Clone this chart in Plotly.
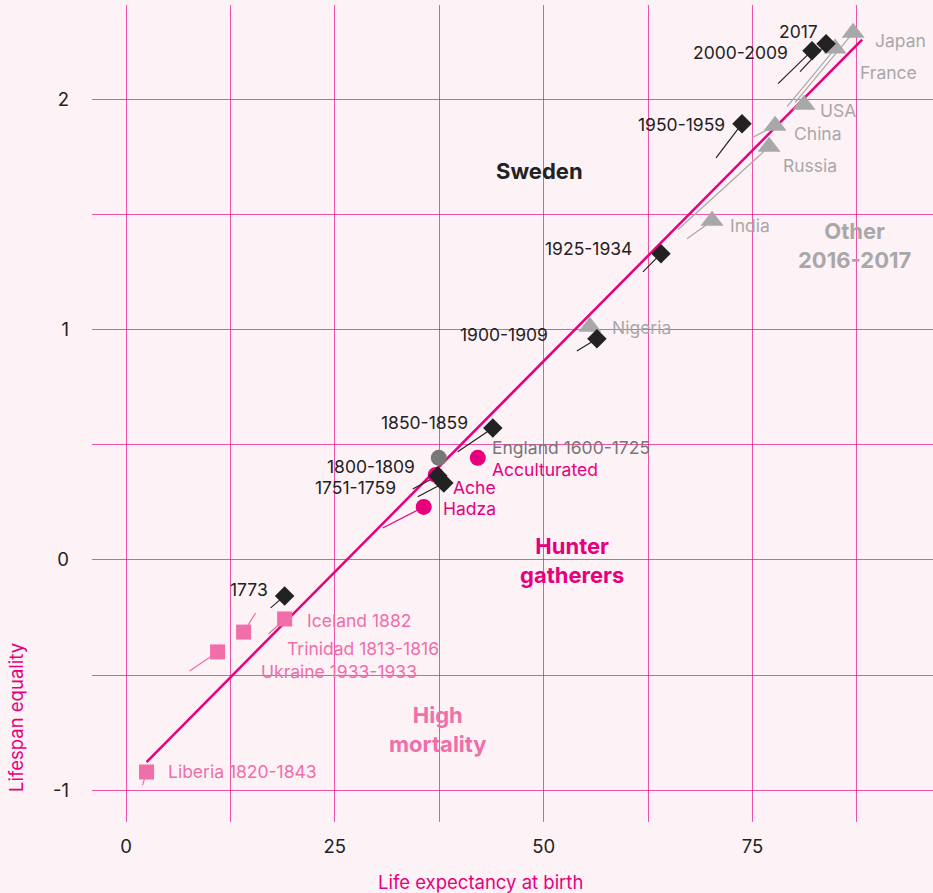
import plotly.graph_objects as go

# ---------------- data ----------------
sweden_labels = ["2017", "2000-2009", "1950-1959", "1925-1934", "1900-1909",
                 "1850-1859", "1800-1809", "1751-1759", "1773"]
sweden_x = [83.80, 82.12, 73.74, 64.04, 56.37, 43.91, 37.32, 38.04, 18.99]
sweden_y = [2.240, 2.210, 1.893, 1.329, 0.960, 0.573, 0.365, 0.334, -0.156]
sweden_tail_x = [80.69, 78.05, 70.63, 61.88, 53.97, 39.71, 34.32, 34.92, 17.31]
sweden_tail_y = [2.119, 2.067, 1.745, 1.250, 0.907, 0.469, 0.308, 0.274, -0.208]

other_labels = ["Japan", "France", "USA", "China", "Russia", "India", "Nigeria"]
other_x = [87.04, 84.88, 81.17, 77.70, 76.98, 70.15, 55.53]
other_y = [2.288, 2.219, 1.975, 1.884, 1.793, 1.472, 1.012]
other_tail_x = [80.09, 79.13, None, 74.94, 66.07, 67.15, None]
other_tail_y = [1.984, 1.967, None, 1.832, 1.433, 1.394, None]

hunter_labels = ["Acculturated", "Ache", "Hadza"]
hunter_x = [42.11, 37.08, 35.64]
hunter_y = [0.443, 0.369, 0.230]
hunter_tail_x = [None, None, 30.73]
hunter_tail_y = [None, None, 0.139]

england_labels = ["England 1600-1725"]
england_x = [37.44]
england_y = [0.443]

mortality_labels = ["Iceland 1882", "Trinidad 1813-1816", "Ukraine 1933-1933", "Liberia 1820-1843"]
mortality_x = [18.99, 14.08, 10.96, 2.46]
mortality_y = [-0.256, -0.313, -0.399, -0.920]
mortality_tail_x = [17.07, 15.51, 7.61, 1.98]
mortality_tail_y = [-0.321, -0.230, -0.482, -0.977]

fit_x = [2.46, 88.12]
fit_y = [-0.877, 2.258]

x_ticks = [0, 12.5, 25, 37.5, 50, 62.5, 75, 87.5]
x_tick_text = ["0", "", "25", "", "50", "", "75", ""]
y_ticks = [-1, -0.5, 0, 0.5, 1, 1.5, 2]
y_tick_text = ["-1", "", "0", "", "1", "", "2"]

# ---------------- styles ----------------
BG = "#fdf2f6"
MAGENTA = "#e6007e"
PINK = "#f06ea9"
GREY = "#a8a8a8"
DARKGREY = "#777777"
BLACK = "#222222"
FONT = "Inter"
LABEL_SIZE = 17.5
GROUP_SIZE = 22
AXIS_SIZE = 18.5

fig = go.Figure()


def tails(xs, ys, txs, tys):
    lx, ly = [], []
    for x, y, tx, ty in zip(xs, ys, txs, tys):
        if tx is None:
            continue
        lx += [x, tx, None]
        ly += [y, ty, None]
    return lx, ly


# regression line
fig.add_trace(go.Scatter(x=fit_x, y=fit_y, mode="lines",
                         line=dict(color=MAGENTA, width=2.5), hoverinfo="skip"))

for xs, ys, txs, tys, col in [
    (sweden_x, sweden_y, sweden_tail_x, sweden_tail_y, BLACK),
    (other_x, other_y, other_tail_x, other_tail_y, GREY),
    (hunter_x, hunter_y, hunter_tail_x, hunter_tail_y, MAGENTA),
    (mortality_x, mortality_y, mortality_tail_x, mortality_tail_y, PINK),
]:
    lx, ly = tails(xs, ys, txs, tys)
    fig.add_trace(go.Scatter(x=lx, y=ly, mode="lines",
                             line=dict(color=col, width=1.2), hoverinfo="skip"))

fig.add_trace(go.Scatter(x=mortality_x, y=mortality_y, mode="markers",
                         marker=dict(symbol="square", size=15, color=PINK)))
fig.add_trace(go.Scatter(x=england_x, y=england_y, mode="markers",
                         marker=dict(symbol="circle", size=16, color=DARKGREY)))
fig.add_trace(go.Scatter(x=hunter_x, y=hunter_y, mode="markers",
                         marker=dict(symbol="circle", size=16, color=MAGENTA)))
fig.add_trace(go.Scatter(x=other_x, y=other_y, mode="markers",
                         marker=dict(symbol="triangle-up", size=20, color=GREY)))
fig.add_trace(go.Scatter(x=sweden_x, y=sweden_y, mode="markers",
                         marker=dict(symbol="diamond", size=15, color=BLACK)))

# label offsets (pixels): (xshift, yshift)
sweden_off = [(-6, 12), (-22, -2), (-15, -1), (-27, 5), (-47, 4),
              (-23, 5), (-21, 9), (-46, -5), (-15, 6)]
other_off = [(20, -8), (23, -24), (14, -6), (17, -8), (12, -19), (16, -5), (20, -1)]
hunter_off = [(12, -12), (15, -13), (17, -2)]
england_off = [(51, 10)]
mortality_off = [(20, -2), (41, -16), (41, -20), (19, 0)]

annotations = []


def add_labels(labels, xs, ys, offs, color, anchor):
    for lab, x, y, (dx, dy) in zip(labels, xs, ys, offs):
        annotations.append(dict(x=x, y=y, xref="x", yref="y", text=lab,
                                showarrow=False, xanchor=anchor, yanchor="middle",
                                xshift=dx, yshift=dy,
                                font=dict(family=FONT, size=LABEL_SIZE, color=color)))


add_labels(sweden_labels, sweden_x, sweden_y, sweden_off, BLACK, "right")
add_labels(other_labels, other_x, other_y, other_off, GREY, "left")
add_labels(hunter_labels, hunter_x, hunter_y, hunter_off, MAGENTA, "left")
add_labels(england_labels, england_x, england_y, england_off, DARKGREY, "left")
add_labels(mortality_labels, mortality_x, mortality_y, mortality_off, PINK, "left")

# group titles
groups = [("Sweden", 49.5, 1.689, BLACK),
          ("Other<br>2016-2017", 87.2, 1.363, GREY),
          ("Hunter<br>gatherers", 53.4, -0.004, MAGENTA),
          ("High<br>mortality", 37.4, -0.734, PINK)]
for txt, x, y, col in groups:
    bold = "<br>".join("<b>" + p + "</b>" for p in txt.split("<br>"))
    annotations.append(dict(x=x, y=y, xref="x", yref="y", text=bold,
                            showarrow=False, xanchor="center", yanchor="middle",
                            align="center",
                            font=dict(family=FONT, size=GROUP_SIZE, color=col)))

L, R, T, B = 92, 0, 5, 71
W, H = 933, 893


def px_to_paper(px, py):
    return (px - L) / (W - L - R), (H - B - py) / (H - T - B)


# axis titles (pixel centres)
ax_x, ax_y = px_to_paper(480, 882)
annotations.append(dict(x=ax_x, y=ax_y, xref="paper", yref="paper",
                        text="Life expectancy at birth", showarrow=False,
                        xanchor="center", yanchor="middle",
                        font=dict(family=FONT, size=AXIS_SIZE, color=MAGENTA)))
ay_x, ay_y = px_to_paper(16, 718)
annotations.append(dict(x=ay_x, y=ay_y, xref="paper", yref="paper",
                        text="Lifespan equality", showarrow=False, textangle=-90,
                        xanchor="center", yanchor="middle",
                        font=dict(family=FONT, size=AXIS_SIZE, color=MAGENTA)))

fig.update_layout(
    width=W, height=H,
    margin=dict(l=L, r=R, t=T, b=B, autoexpand=False),
    paper_bgcolor=BG, plot_bgcolor=BG,
    showlegend=False,
    font=dict(family=FONT, size=AXIS_SIZE, color=BLACK),
    annotations=annotations,
    xaxis=dict(range=[-4.07, 96.6], tickvals=x_ticks, ticktext=x_tick_text,
               showgrid=True, gridcolor="rgba(230,0,126,0.65)", gridwidth=1,
               zeroline=False, showline=False, ticks="", ticklabelstandoff=11,
               tickfont=dict(family=FONT, size=AXIS_SIZE, color=BLACK), fixedrange=True),
    yaxis=dict(range=[-1.137, 2.408], tickvals=y_ticks, ticktext=y_tick_text,
               showgrid=True, gridcolor="rgba(230,0,126,0.65)", gridwidth=1,
               zeroline=False, showline=False, ticks="", ticklabelstandoff=22,
               tickfont=dict(family=FONT, size=AXIS_SIZE, color=BLACK), fixedrange=True),
)

fig.write_html("out.html", config={"displayModeBar": False},
               post_script="document.body.style.margin='0';document.body.style.background='%s';" % BG)
